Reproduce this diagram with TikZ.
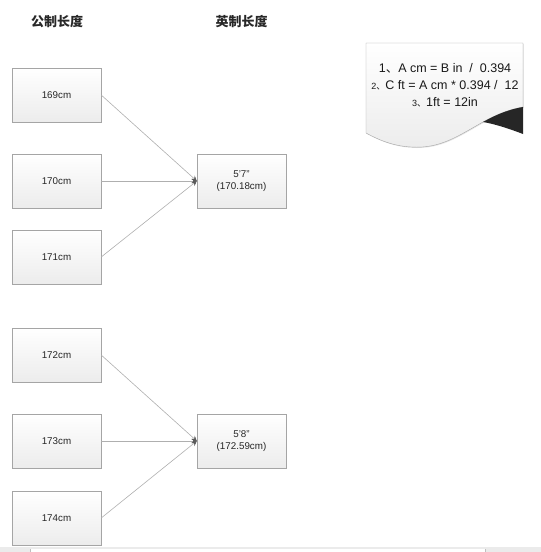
\documentclass[tikz,border=0pt]{standalone}
\usepackage{fontspec}
\setmainfont{Liberation Sans}
\newfontfamily\cjk{Noto Sans CJK SC}
\usepackage{tikz}
\usetikzlibrary{positioning,arrows.meta,shadows}
\definecolor{boxLine}{RGB}{165,165,165}
\definecolor{boxBottom}{RGB}{236,236,236}
\definecolor{linkGray}{RGB}{175,175,175}
\definecolor{tipGray}{RGB}{90,90,90}
\definecolor{headText}{RGB}{40,40,40}

\begin{document}
\begin{tikzpicture}[x=1pt, y=-1pt,
  lenbox/.style={draw=boxLine, top color=white, bottom color=boxBottom,
    minimum width=89pt, minimum height=54pt, align=center, inner sep=2pt,
    font=\fontsize{9.8}{12}\selectfont, text=black!85,
    drop shadow={shadow xshift=0.8pt, shadow yshift=-0.8pt, opacity=0.25}},
  head/.style={font=\cjk\bfseries\fontsize{13}{15}\selectfont, text=headText},
  formula/.style={font=\fontsize{12.5}{14}\selectfont, text=black!90},
  link/.style={draw=linkGray, line width=0.6pt,
    -{Stealth[length=5pt, width=5pt, color=tipGray, fill=tipGray]}}]
  \useasboundingbox (0,0) rectangle (541,552);

  % Column headers
  \node[head] (hmetric) at (57,21.5) {公制长度};
  \node[head] (himperial) at (241.5,21.5) {英制长度};

  % Metric lengths
  \foreach \cm/\y in {169/95, 170/181, 171/257, 172/355, 173/441, 174/518} {
    \node[lenbox] (m\cm) at (56.5,\y) {\cm cm};
  }

  % Imperial lengths
  \node[lenbox] (ft57) at (241.5,181) {5'7''\\(170.18cm)};
  \node[lenbox] (ft58) at (241.5,441) {5'8''\\(172.59cm)};

  % Links
  \foreach \cm in {169,170,171} \draw[link] (m\cm.east) -- (ft57.west);
  \foreach \cm in {172,173,174} \draw[link] (m\cm.east) -- (ft58.west);

  % Note with the formulas
  \path[draw=boxLine, top color=white, bottom color=boxBottom,
    drop shadow={shadow xshift=0.8pt, shadow yshift=-0.8pt, opacity=0.2}]
    (366,43) -- (523,43) -- (523,107)
    .. controls (506,110) and (494,116) .. (483,122)
    .. controls (458,136) and (440,149) .. (411,147)
    .. controls (392,146) and (377,139) .. (366,133) -- cycle;
  \fill[black!85] (483,122) .. controls (494,116) and (506,110) .. (523,107)
    -- (523,134) .. controls (510,129) and (495,124) .. (483,122) -- cycle;
  \node[formula] (f1) at (445,68)
    {1{\cjk 、}A cm = B in \ / \ 0.394};
  \node[formula] (f2) at (445,85)
    {{\fontsize{9}{10}\selectfont 2\cjk 、}C ft = A cm * 0.394 / \ 12};
  \node[formula] (f3) at (445,102)
    {{\fontsize{9}{10}\selectfont 3\cjk 、}1ft = 12in};

  % Bottom strip
  \fill[black!8] (0,547) rectangle (541,552);
  \fill[white] (30,549) rectangle (485,552);
  \draw[black!25, line width=0.6pt] (30,549) -- (30,552) (485,549) -- (485,552);
\end{tikzpicture}
\end{document}
